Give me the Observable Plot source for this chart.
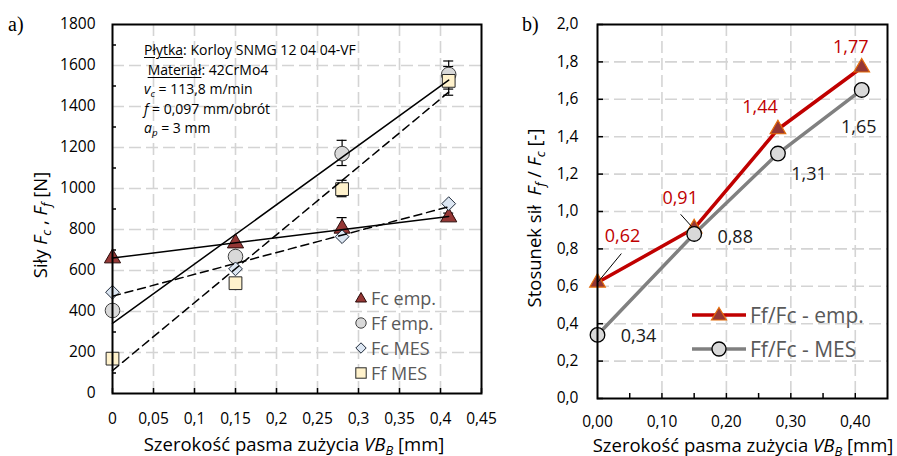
<!DOCTYPE html>
<html><head><meta charset="utf-8">
<script src="https://cdn.jsdelivr.net/npm/d3@7"></script>
<script src="https://cdn.jsdelivr.net/npm/@observablehq/plot@0.6"></script>
<style>
html,body{margin:0;padding:0;background:#fff;}
#root{position:relative;width:897px;height:456px;overflow:hidden;font-family:"Open Sans",sans-serif;color:#000;}
#root svg{position:absolute;top:0;}
.abs{position:absolute;white-space:nowrap;line-height:1;}
.rot{transform:translate(-50%,-50%) rotate(-90deg);}
.ctr{transform:translate(-50%,-50%);}
.vc{transform:translateY(-50%);}
sub{font-size:0.7em;vertical-align:-0.3em;line-height:0;}
u{text-decoration:underline;text-underline-offset:2px;}
</style></head><body><div id="root"></div>
<script>
// ---------- data ----------
const wear = [0, 0.15, 0.28, 0.41];               // VB_B [mm]
const fcEmp = [660, 733, 805, 860];
const ffEmp = [405, 668, 1170, 1556];
const fcMes = [494, 608, 765, 926];
const ffMes = [170, 538, 997, 1525];
const fcEmpLo = [null, null, 760, 845];
const fcEmpHi = [null, null, 858, 880];
const ffEmpLo = [null, null, 1112, 1455];
const ffEmpHi = [null, null, 1235, 1622];
const ffMesLo = [null, null, 960, 1485];
const ffMesHi = [null, null, 1040, 1595];

const ratioEmp = [0.62, 0.91, 1.44, 1.77];
const ratioMes = [0.34, 0.88, 1.31, 1.65];

const xTicksA = [0, 0.05, 0.1, 0.15, 0.2, 0.25, 0.3, 0.35, 0.4, 0.45];
const yTicksA = [0, 200, 400, 600, 800, 1000, 1200, 1400, 1600, 1800];
const yMinorA = [100, 300, 500, 700, 900, 1100, 1300, 1500, 1700];
const xTicksB = [0, 0.1, 0.2, 0.3, 0.4];
const xMinorB = [0.05, 0.1, 0.15, 0.2, 0.25, 0.3, 0.35, 0.4];
const yTicksB = [0, 0.2, 0.4, 0.6, 0.8, 1.0, 1.2, 1.4, 1.6, 1.8, 2.0];

const legendA = ["Fc emp.", "Ff emp.", "Fc MES", "Ff MES"];
const legendB = ["Ff/Fc - emp.", "Ff/Fc - MES"];

// label placement (pixel offsets) for panel b
const offEmp = [[25, -46], [-14, -30], [-18, -22], [-11, -20]];
const offMes = [[41, 1], [41, 3], [31, 21], [-3, 37]];
// ---------- build ----------
const root = document.getElementById("root");
const comma = s => s.replace(".", ",");

const rowsA = wear.map((x, i) => ({x, fcEmp: fcEmp[i], ffEmp: ffEmp[i], fcMes: fcMes[i], ffMes: ffMes[i]}));
const errRows = [];
wear.forEach((x, i) => {
  [[fcEmpLo, fcEmpHi], [ffEmpLo, ffEmpHi], [ffMesLo, ffMesHi]].forEach(([lo, hi]) => {
    if (lo[i] != null) errRows.push({x, lo: lo[i], hi: hi[i]});
  });
});
const reg = (key) => wear.map((x, i) => ({x, y: rowsA[i][key]}));

const grid = {stroke: "#d4d4d4", strokeWidth: 1.6, strokeDasharray: "12,5"};
const baseStyle = {fontFamily: "'Open Sans', sans-serif", fontSize: "15.5px", color: "#000", background: "transparent", overflow: "visible"};

const plotA = Plot.plot({
  width: 490, height: 456,
  marginLeft: 112, marginRight: 9, marginTop: 24, marginBottom: 63,
  style: baseStyle,
  x: {domain: [0, 0.45], ticks: xTicksA, tickFormat: d => comma(String(d)), tickSize: 0, tickPadding: 19, label: null},
  y: {domain: [0, 1800], ticks: yTicksA, tickFormat: d => String(d), tickSize: 0, tickPadding: 17, label: null},
  marks: [
    Plot.ruleX(xTicksA.slice(1, -1), grid),
    Plot.ruleY(yTicksA.slice(1, -1), grid),
    Plot.ruleX(xTicksA, {insetTop: 364, stroke: "#000", strokeWidth: 1.5}),
    Plot.ruleY(yMinorA, {insetRight: 365, stroke: "#000", strokeWidth: 1.5}),
    Plot.ruleX(errRows, {x: "x", y1: "lo", y2: "hi", stroke: "#000", strokeWidth: 1.2}),
    Plot.ruleY(errRows, {y: "lo", x1: "x", x2: "x", insetLeft: -5, insetRight: -5, stroke: "#000", strokeWidth: 1.2}),
    Plot.ruleY(errRows, {y: "hi", x1: "x", x2: "x", insetLeft: -5, insetRight: -5, stroke: "#000", strokeWidth: 1.2}),
    Plot.dot(rowsA, {x: "x", y: "fcEmp", symbol: "triangle", r: 6, fill: "#953735", stroke: "#2b0b0a", strokeWidth: 1}),
    Plot.dot(rowsA, {x: "x", y: "ffEmp", symbol: "circle", r: 7.3, fill: "#d9d9d9", stroke: "#404040", strokeWidth: 1}),
    Plot.dot(rowsA, {x: "x", y: "fcMes", symbol: "diamond2", r: 6.2, fill: "#dce6f2", stroke: "#1f2a3a", strokeWidth: 1}),
    Plot.dot(rowsA, {x: "x", y: "ffMes", symbol: "square", r: 7.2, fill: "#fff2cc", stroke: "#262626", strokeWidth: 1}),
    Plot.linearRegressionY(reg("fcEmp"), {x: "x", y: "y", ci: 0, stroke: "#000", strokeWidth: 1.5}),
    Plot.linearRegressionY(reg("ffEmp"), {x: "x", y: "y", ci: 0, stroke: "#000", strokeWidth: 1.5}),
    Plot.linearRegressionY(reg("fcMes"), {x: "x", y: "y", ci: 0, stroke: "#000", strokeWidth: 1.5, strokeDasharray: "8,5"}),
    Plot.linearRegressionY(reg("ffMes"), {x: "x", y: "y", ci: 0, stroke: "#000", strokeWidth: 1.5, strokeDasharray: "8,5"}),
    Plot.frame({stroke: "#000", strokeWidth: 2})
  ]
});
plotA.style.left = "0px";
root.appendChild(plotA);

const rowsB = wear.map((x, i) => ({x, emp: ratioEmp[i], mes: ratioMes[i]}));
const labelMarks = [];
rowsB.forEach((d, i) => {
  labelMarks.push(Plot.text([d], {x: "x", y: "emp", text: r => comma(r.emp.toFixed(2)), dx: offEmp[i][0], dy: offEmp[i][1], fill: "#c00000", fontSize: 18}));
  labelMarks.push(Plot.text([d], {x: "x", y: "mes", text: r => comma(r.mes.toFixed(2)), dx: offMes[i][0], dy: offMes[i][1], fill: "#1a1a1a", fontSize: 18}));
});
// leader lines for the first two red labels (offsets in data units)
const leaders = [
  {x1: wear[0], y1: ratioEmp[0], x2: wear[0] + 0.037, y2: ratioEmp[0] + 0.155},
  {x1: wear[1] - 0.004, y1: ratioEmp[1] + 0.01, x2: wear[1] - 0.021, y2: ratioEmp[1] + 0.075}
];

const plotB = Plot.plot({
  width: 407, height: 456,
  marginLeft: 107, marginRight: 10, marginTop: 24, marginBottom: 58,
  style: baseStyle,
  x: {domain: [0, 0.45], ticks: xTicksB, tickFormat: d => comma(d.toFixed(2)), tickSize: 0, tickPadding: 17, label: null},
  y: {domain: [0, 2.0], ticks: yTicksB, tickFormat: d => comma(d.toFixed(1)), tickSize: 0, tickPadding: 19, label: null},
  marks: [
    Plot.ruleX(xTicksB.slice(1), grid),
    Plot.ruleY(yTicksB.slice(1, -1), grid),
    Plot.ruleX(xMinorB, {insetTop: 369, stroke: "#000", strokeWidth: 1.5}),
    Plot.ruleY(yTicksB, {insetRight: 284, stroke: "#000", strokeWidth: 1.5}),
    Plot.line(rowsB, {x: "x", y: "mes", stroke: "#808080", strokeWidth: 3.5}),
    Plot.line(rowsB, {x: "x", y: "emp", stroke: "#c00000", strokeWidth: 3.5}),
    Plot.dot(rowsB, {x: "x", y: "emp", symbol: "triangle", r: 5.8, fill: "#953735", stroke: "#e46c0a", strokeWidth: 1.2}),
    Plot.dot(rowsB, {x: "x", y: "mes", symbol: "circle", r: 7.3, fill: "#d9d9d9", stroke: "#000", strokeWidth: 1.3}),
    Plot.link(leaders, {x1: "x1", y1: "y1", x2: "x2", y2: "y2", stroke: "#000", strokeWidth: 1}),
    ...labelMarks,
    Plot.frame({stroke: "#000", strokeWidth: 2})
  ]
});
plotB.style.left = "490px";
root.appendChild(plotB);

// ---------- overlay texts ----------
function add(html, cls, left, top, style = "") {
  const d = document.createElement("div");
  d.className = "abs " + cls;
  d.style.cssText += `left:${left}px;top:${top}px;${style}`;
  d.innerHTML = html;
  root.appendChild(d);
  return d;
}
add("a)", "vc", 8, 24, "font-family:'Liberation Serif',serif;font-size:20px;");
add("b)", "vc", 522, 24, "font-family:'Liberation Serif',serif;font-size:20px;");

const xTitle = "Szerokość pasma zużycia <i>VB</i><sub><i>B</i></sub> [mm]";
add(xTitle, "ctr", 294, 444, "font-size:18.5px;");
add(xTitle, "ctr", 743, 445, "font-size:18.5px;");
add("Siły <i>F</i><sub><i>c</i></sub> , <i>F</i><sub><i>f</i></sub> [N]", "rot", 40, 225, "font-size:18.5px;");
add("Stosunek sił&nbsp; <i>F</i><sub><i>f</i></sub> / <i>F</i><sub><i>c</i></sub> [-]", "rot", 534, 218, "font-size:18.5px;");

add(`<div><u>Płytka</u>: Korloy SNMG 12 04 04-VF</div>
<div>&nbsp;<u>Materiał</u>: 42CrMo4</div>
<div><i>v</i><sub><i>c</i></sub> = 113,8 m/min</div>
<div><i>f</i> = 0,097 mm/obrót</div>
<div><i>a</i><sub><i>p</i></sub> = 3 mm</div>`, "", 144, 40, "font-size:14px;line-height:19.5px;");

// legend a
const symA = [
  '<polygon points="6,0.5 11.5,10 0.5,10" fill="#953735" stroke="#2b0b0a" stroke-width="1"/>',
  '<circle cx="6" cy="6" r="5.2" fill="#d9d9d9" stroke="#404040" stroke-width="1"/>',
  '<polygon points="6,0.8 11.2,6 6,11.2 0.8,6" fill="#dce6f2" stroke="#1f2a3a" stroke-width="1"/>',
  '<rect x="0.8" y="0.8" width="10.4" height="10.4" fill="#fff2cc" stroke="#262626" stroke-width="1"/>'
];
const rowYA = [298, 323, 348, 373];
legendA.forEach((t, i) => {
  add(`<svg width="12" height="12" style="position:static;display:block">${symA[i]}</svg>`, "", 355, rowYA[i] - 6);
  add(t, "vc", 371, rowYA[i], "font-size:18px;color:#595959;");
});

// legend b
const symB = [
  '<line x1="0" y1="9" x2="54" y2="9" stroke="#c00000" stroke-width="3.5"/><polygon points="27,1.5 34.5,14 19.5,14" fill="#953735" stroke="#e46c0a" stroke-width="1.2"/>',
  '<line x1="0" y1="9" x2="54" y2="9" stroke="#808080" stroke-width="3.5"/><circle cx="27" cy="9" r="7" fill="#d9d9d9" stroke="#000" stroke-width="1.3"/>'
];
const rowYB = [315, 349];
legendB.forEach((t, i) => {
  add(`<svg width="54" height="18" style="position:static;display:block">${symB[i]}</svg>`, "", 692, rowYB[i] - 9);
  add(t, "vc", 750, rowYB[i], "font-size:21px;color:#595959;");
});
</script></body></html>
